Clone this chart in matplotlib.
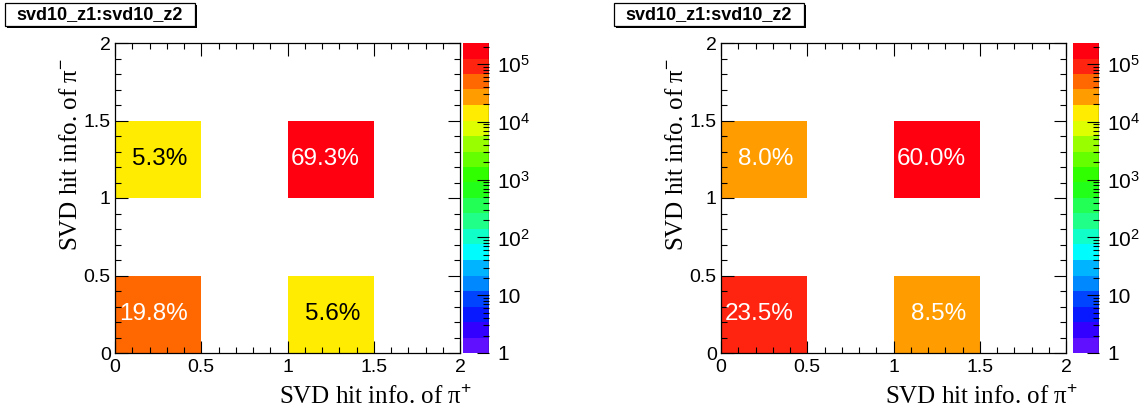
import numpy as np
import matplotlib
matplotlib.use("Agg")
import matplotlib.pyplot as plt
from matplotlib.colors import ListedColormap, LogNorm, to_rgb
from matplotlib.ticker import FixedLocator, FixedFormatter, MultipleLocator, LogLocator, NullFormatter
from matplotlib.patches import Rectangle
from matplotlib.lines import Line2D

plt.rcParams['font.family'] = ['Liberation Sans', 'DejaVu Sans']
plt.rcParams['mathtext.fontset'] = 'custom'
plt.rcParams['mathtext.rm'] = 'Liberation Sans'
plt.rcParams['mathtext.it'] = 'Liberation Sans:italic'
plt.rcParams['mathtext.bf'] = 'Liberation Sans:bold'

# histogram definition (4x4 bins on [0,2])
bin_edges = [0, 0.5, 1, 1.5, 2]
axis_ticks = [0, 0.5, 1, 1.5, 2]
axis_ticklabels = ["0", "0.5", "1", "1.5", "2"]
hist_title = "svd10_z1:svd10_z2"
x_title = "SVD hit info. of π${}^{+}$"
y_title = "SVD hit info. of π${}^{-}$"

# entries per bin, rows are pi- bins, columns are pi+ bins
counts_left = [[51480, 0, 14560, 0],
               [0, 0, 0, 0],
               [13780, 0, 180180, 0],
               [0, 0, 0, 0]]
counts_right = [[77550, 0, 28050, 0],
                [0, 0, 0, 0],
                [26400, 0, 198000, 0],
                [0, 0, 0, 0]]

z_min, z_max = 1, 2.3e5
z_ticks = [1, 10, 1e2, 1e3, 1e4, 1e5]
z_ticklabels = ["1", "10", "$10^{2}$", "$10^{3}$", "$10^{4}$", "$10^{5}$"]

# 20 contour colours, violet -> red
palette = ["#6010ff", "#3300ff", "#0818ff", "#0044ff", "#0088ff", "#00b4ff",
           "#00fcfc", "#10ffc8", "#20ff88", "#22ff55", "#22ff18", "#30ff00",
           "#66ff00", "#99ff00", "#ddff00", "#ffec00", "#ff9c00", "#ff6800",
           "#ff2410", "#ff0010"]
cmap = ListedColormap(palette)
norm = LogNorm(vmin=z_min, vmax=z_max)

W, H = 1141, 412
fig = plt.figure(figsize=(W / 100, H / 100), dpi=100)


def fx(px):
    return px / W


def fy(py):
    return 1 - py / H


def draw_panel(counts, ax_left, cb_left, box_left):
    ax = fig.add_axes([fx(ax_left), fy(353), fx(345), 310 / H])
    data = np.ma.masked_equal(np.array(counts, dtype=float), 0)
    mesh = ax.pcolormesh(bin_edges, bin_edges, data, cmap=cmap, norm=norm)
    ax.set_xlim(0, 2)
    ax.set_ylim(0, 2)
    for axis in (ax.xaxis, ax.yaxis):
        axis.set_major_locator(FixedLocator(axis_ticks))
        axis.set_major_formatter(FixedFormatter(axis_ticklabels))
        axis.set_minor_locator(MultipleLocator(0.1))
    ax.tick_params(which='both', direction='in', top=True, right=True,
                   labelsize=14, width=0.8)
    ax.tick_params(which='major', length=9)
    ax.tick_params(which='minor', length=4.5)
    ax.tick_params(axis='x', pad=4)
    ax.tick_params(axis='y', pad=3)
    for s in ax.spines.values():
        s.set_linewidth(0.9)

    total = sum(sum(r) for r in counts)
    for i in range(len(counts)):
        for j in range(len(counts[i])):
            v = counts[i][j]
            if v == 0:
                continue
            r, g, b = to_rgb(cmap(norm(v)))
            lum = 0.299 * r + 0.587 * g + 0.114 * b
            ax.text(bin_edges[j] + 0.42, (bin_edges[i] + bin_edges[i + 1]) / 2,
                    f"{100 * v / total:.1f}%", ha='right', va='center',
                    fontsize=17.5, color='black' if lum > 0.75 else 'white')

    serif = ['Liberation Serif', 'DejaVu Serif']
    ax.text(1.035, -0.14, x_title, transform=ax.transAxes, ha='right',
            va='center', fontsize=18, family=serif)
    ax.text(-0.127, 0.95, y_title, transform=ax.transAxes, ha='center',
            va='top', rotation=90, fontsize=18, family=serif)

    cax = fig.add_axes([fx(cb_left), fy(353), fx(26), 310 / H])
    cb = fig.colorbar(mesh, cax=cax)
    cb.outline.set_visible(False)
    cax.add_line(Line2D([1, 1], [0, 1], transform=cax.transAxes, color='black', lw=0.9))
    cax.yaxis.set_major_locator(FixedLocator(z_ticks))
    cax.yaxis.set_major_formatter(FixedFormatter(z_ticklabels))
    cax.yaxis.set_minor_locator(LogLocator(subs=np.arange(2, 10), numticks=20))
    cax.yaxis.set_minor_formatter(NullFormatter())
    cax.tick_params(which='both', direction='in', right=True, left=False,
                    labelsize=15, width=0.8, pad=6)
    cax.tick_params(which='major', length=9)
    cax.tick_params(which='minor', length=4.5)

    # title pave with shadow
    bw, bh = 190, 23
    fig.add_artist(Rectangle((fx(box_left + 2), fy(3 + bh + 2)), fx(bw), bh / H,
                             transform=fig.transFigure, facecolor='black',
                             edgecolor='none'))
    fig.add_artist(Rectangle((fx(box_left), fy(3 + bh)), fx(bw), bh / H,
                             transform=fig.transFigure, facecolor='white',
                             edgecolor='black', lw=0.9))
    fig.text(fx(box_left + bw / 2), fy(3 + bh / 2), hist_title, ha='center',
             va='center', fontsize=13, fontweight='bold')


draw_panel(counts_left, 115, 463, 5)
draw_panel(counts_right, 721, 1073, 614)

fig.savefig("out.png", dpi=100)
